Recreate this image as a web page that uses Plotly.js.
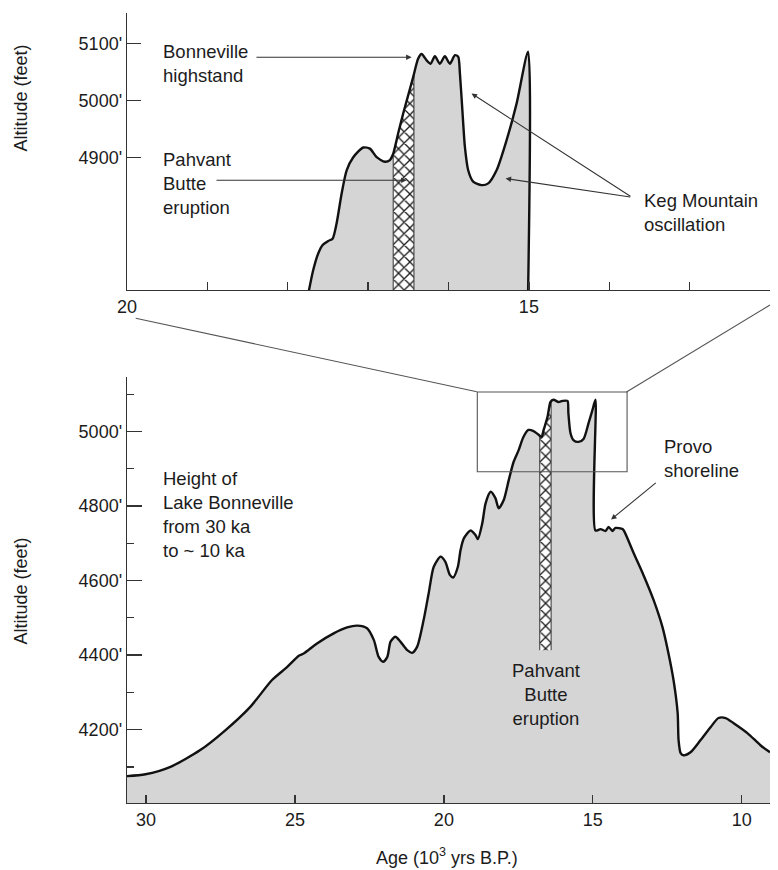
<!DOCTYPE html>
<html>
<head>
<meta charset="utf-8">
<script src="https://cdn.plot.ly/plotly-3.0.1.min.js"></script>
<style>html,body{margin:0;padding:0;background:#fff;}#chart{width:778px;height:870px;}</style>
</head>
<body>
<div id="chart"></div>
<script>
// ---- Full record: height of Lake Bonneville, 30 ka to ~10 ka (bottom panel)
const botAge = [30.64,30.02,29.18,28.18,27.34,26.50,25.77,25.26,24.87,24.71,
  24.26,23.70,23.25,22.91,22.58,22.35,22.19,22.04,21.90,21.79,
  21.63,21.46,21.23,21.07,20.90,20.68,20.51,20.34,20.11,19.95,
  19.80,19.69,19.53,19.44,19.33,19.11,18.94,18.86,18.71,18.60,
  18.43,18.27,18.16,17.99,17.82,17.66,17.49,17.33,17.16,16.99,
  16.82,16.72,16.65,16.52,16.42,16.32,16.15,16.02,15.85,15.82,
  15.75,15.65,15.48,15.31,15.14,15.01,14.91,14.91,14.74,14.57,
  14.47,14.34,14.24,14.00,13.93,13.63,13.30,12.96,12.66,12.46,
  12.29,12.15,12.12,12.05,11.95,11.72,11.38,11.04,10.78,10.54,
  10.27,9.80,9.37,9.05];
const botAlt = [4075,4080,4100,4145,4198,4261,4333,4368,4398,4404,
  4431,4458,4474,4479,4472,4440,4395,4382,4395,4436,
  4449,4436,4413,4406,4422,4494,4566,4637,4664,4650,
  4615,4608,4637,4682,4713,4734,4722,4711,4754,4807,
  4838,4821,4794,4816,4870,4918,4950,4985,5004,5001,
  4991,4985,5004,5039,5079,5085,5079,5082,5082,5050,
  4996,4977,4972,4980,5023,5058,5085,4734,4738,4733,
  4744,4733,4741,4738,4730,4674,4615,4548,4475,4405,
  4333,4244,4172,4137,4131,4139,4172,4207,4231,4231,
  4217,4190,4158,4139];
// Pahvant Butte eruption band (bottom panel)
const botHatchAge = [16.78,16.78,16.72,16.65,16.52,16.42,16.40,16.40];
const botHatchAlt = [4413,4989,4985,5004,5039,5079,5082,4413];

// ---- Enlarged detail 20 ka to 12 ka (top panel)
const topAge = [17.745,17.683,17.621,17.566,17.496,17.442,17.392,17.330,17.267,17.185,
  17.061,16.978,16.894,16.791,16.729,16.688,16.626,16.563,16.501,16.439,
  16.377,16.335,16.272,16.223,16.169,16.107,16.045,15.983,15.920,15.879,
  15.858,15.825,15.796,15.755,15.693,15.588,15.506,15.402,15.277,15.153,
  15.01,15.01];
const topAlt = [4660,4702,4731,4746,4753,4757,4784,4836,4877,4900,
  4917,4915,4900,4892,4895,4906,4942,4977,5009,5041,
  5073,5081,5070,5064,5077,5064,5077,5064,5079,5076,
  5047,4977,4918,4877,4857,4851,4854,4877,4930,4994,
  5085,4660];
const topHatchAge = [16.688,16.688,16.626,16.563,16.501,16.439,16.43,16.43];
const topHatchAlt = [4660,4906,4942,4977,5009,5041,5045,4660];

// ---- Ticks
const botXTicks = [30,25,20,15,10];
const botXText = ['30','25','20','15','10'];
const botYTicks = [4200,4400,4600,4800,5000];
const botYText = ["4200'","4400'","4600'","4800'","5000'"];
const botYMinor = [4100,4300,4500,4700,4900,5100];
const topXTicks = [20,19,18,17,16,15,14,13,12];
const topXText = ['20','','','','','15','','',''];
const topYTicks = [4900,5000,5100];
const topYText = ["4900'","5000'","5100'"];

const FONT = 'Liberation Sans, Arial, Helvetica, sans-serif';
const TXT = '#1c1c1c';
const GRAY = '#d5d5d5';
const FS = 18.5;
const TFS = 18;

const HATCH = {shape:'x', size:8, solidity:0.3, fgcolor:'#1a1a1a', bgcolor:'#fff'};

const traces = [
  // bottom panel
  {x: botAge, y: botAlt, xaxis:'x', yaxis:'y', type:'scatter', mode:'lines',
   line:{width:0, shape:'spline', smoothing:0.7}, fill:'tozeroy', fillcolor:GRAY, hoverinfo:'skip'},
  {x: botHatchAge, y: botHatchAlt, xaxis:'x', yaxis:'y', type:'scatter', mode:'lines',
   line:{width:1, color:'#333'}, fill:'toself', fillcolor:'#fff', fillpattern:HATCH, hoverinfo:'skip'},
  {x: botAge, y: botAlt, xaxis:'x', yaxis:'y', type:'scatter', mode:'lines',
   line:{width:2.4, color:'#111', shape:'spline', smoothing:0.7}, hoverinfo:'skip'},
  // top panel
  {x: topAge, y: topAlt, xaxis:'x2', yaxis:'y2', type:'scatter', mode:'lines',
   line:{width:0, shape:'spline', smoothing:0.7}, fill:'tozeroy', fillcolor:GRAY, hoverinfo:'skip'},
  {x: topHatchAge, y: topHatchAlt, xaxis:'x2', yaxis:'y2', type:'scatter', mode:'lines',
   line:{width:1, color:'#333'}, fill:'toself', fillcolor:'#fff', fillpattern:HATCH, hoverinfo:'skip'},
  {x: topAge, y: topAlt, xaxis:'x2', yaxis:'y2', type:'scatter', mode:'lines',
   line:{width:2.4, color:'#111', shape:'spline', smoothing:0.7}, hoverinfo:'skip'}
];

const axisCommon = {showgrid:false, zeroline:false, showline:true, linecolor:'#333', linewidth:1.3,
  ticks:'inside', tickcolor:'#333', tickwidth:1.3, tickfont:{family:FONT, size:TFS, color:TXT},
  tickmode:'array', fixedrange:true};

const annArrow = (xr, yr, ax, ay, x, y) => ({xref:xr, yref:yr, axref:xr, ayref:yr, x:x, y:y, ax:ax, ay:ay,
  text:'', showarrow:true, arrowhead:2, arrowsize:1, arrowwidth:1.1, arrowcolor:'#333'});
const annText = (x, y, t, xa) => ({xref:'paper', yref:'paper', x:x, y:y, text:t, showarrow:false,
  xanchor:xa || 'left', yanchor:'middle', align:xa === 'center' ? 'center' : 'left',
  font:{family:FONT, size:FS, color:TXT}});

const layout = {
  width:778, height:870,
  margin:{l:127, r:8, t:13, b:67},
  paper_bgcolor:'#fff', plot_bgcolor:'rgba(0,0,0,0)',
  showlegend:false,
  xaxis: Object.assign({}, axisCommon, {domain:[0,1], anchor:'y', range:[30.64, 9.05],
    tickvals:botXTicks, ticktext:botXText, ticklen:8}),
  yaxis: Object.assign({}, axisCommon, {domain:[0,0.5392], anchor:'x', range:[4003, 5146],
    tickvals:botYTicks, ticktext:botYText, ticklen:15,
    minor:{tickmode:'array', tickvals:botYMinor, ticks:'inside', ticklen:7, tickcolor:'#333', tickwidth:1.3}}),
  xaxis2: Object.assign({}, axisCommon, {domain:[0,1], anchor:'y2', range:[20, 12],
    tickvals:topXTicks, ticktext:topXText, ticklen:8}),
  yaxis2: Object.assign({}, axisCommon, {domain:[0.6494,1], anchor:'x2', range:[4667, 5153],
    tickvals:topYTicks, ticktext:topYText, ticklen:14}),
  shapes:[
    {type:'rect', xref:'x', yref:'y', x0:18.878, x1:13.849, y0:4892, y1:5106,
     line:{color:'#555', width:1.1}, fillcolor:'rgba(0,0,0,0)', layer:'above'},
    {type:'line', xref:'paper', yref:'paper', x0:(135.7-127)/643, y0:(803-318.3)/790,
     x1:(476.8-127)/643, y1:(803-391.7)/790, line:{color:'#555', width:1.1}},
    {type:'line', xref:'paper', yref:'paper', x0:(770-127)/643, y0:(803-305)/790,
     x1:(626.5-127)/643, y1:(803-392)/790, line:{color:'#555', width:1.1}}
  ],
  annotations:[
    // axis titles
    {xref:'paper', yref:'paper', x:(20.5-127)/643, y:(803-98)/790, text:'Altitude (feet)', textangle:-90,
     showarrow:false, xanchor:'center', yanchor:'middle', font:{family:FONT, size:TFS, color:TXT}},
    {xref:'paper', yref:'paper', x:(20.5-127)/643, y:(803-591)/790, text:'Altitude (feet)', textangle:-90,
     showarrow:false, xanchor:'center', yanchor:'middle', font:{family:FONT, size:TFS, color:TXT}},
    {xref:'paper', yref:'paper', x:(447-127)/643, y:(803-857)/790, text:'Age (10<sup>3</sup> yrs B.P.)',
     showarrow:false, xanchor:'center', yanchor:'middle', font:{family:FONT, size:TFS, color:TXT}},
    // top panel labels
    annText((161-127)/643, (803-63)/790, 'Bonneville<br>highstand'),
    annText((161-127)/643, (803-183)/790, 'Pahvant<br>Butte<br>eruption'),
    annText((641.7-127)/643, (803-212)/790, 'Keg Mountain<br>oscillation'),
    annArrow('x2','y2', 18.408, 5075.4, 16.459, 5075.4),
    annArrow('x2','y2', 18.905, 4859.6, 16.521, 4859.6),
    annArrow('x2','y2', 13.719, 4829.8, 15.713, 5011.8),
    annArrow('x2','y2', 13.719, 4829.8, 15.290, 4862.6),
    // bottom panel labels
    annText((161-127)/643, (803-514)/790, 'Height of<br>Lake Bonneville<br>from 30 ka<br>to ~ 10 ka'),
    annText((661.7-127)/643, (803-458)/790, 'Provo<br>shoreline'),
    annText((546-127)/643, (803-694)/790, 'Pahvant<br>Butte<br>eruption', 'center'),
    annArrow('x','y', 12.835, 4865.2, 14.387, 4763.7)
  ]
};

Plotly.newPlot('chart', traces, layout, {staticPlot:true, displayModeBar:false});
</script>
</body>
</html>
